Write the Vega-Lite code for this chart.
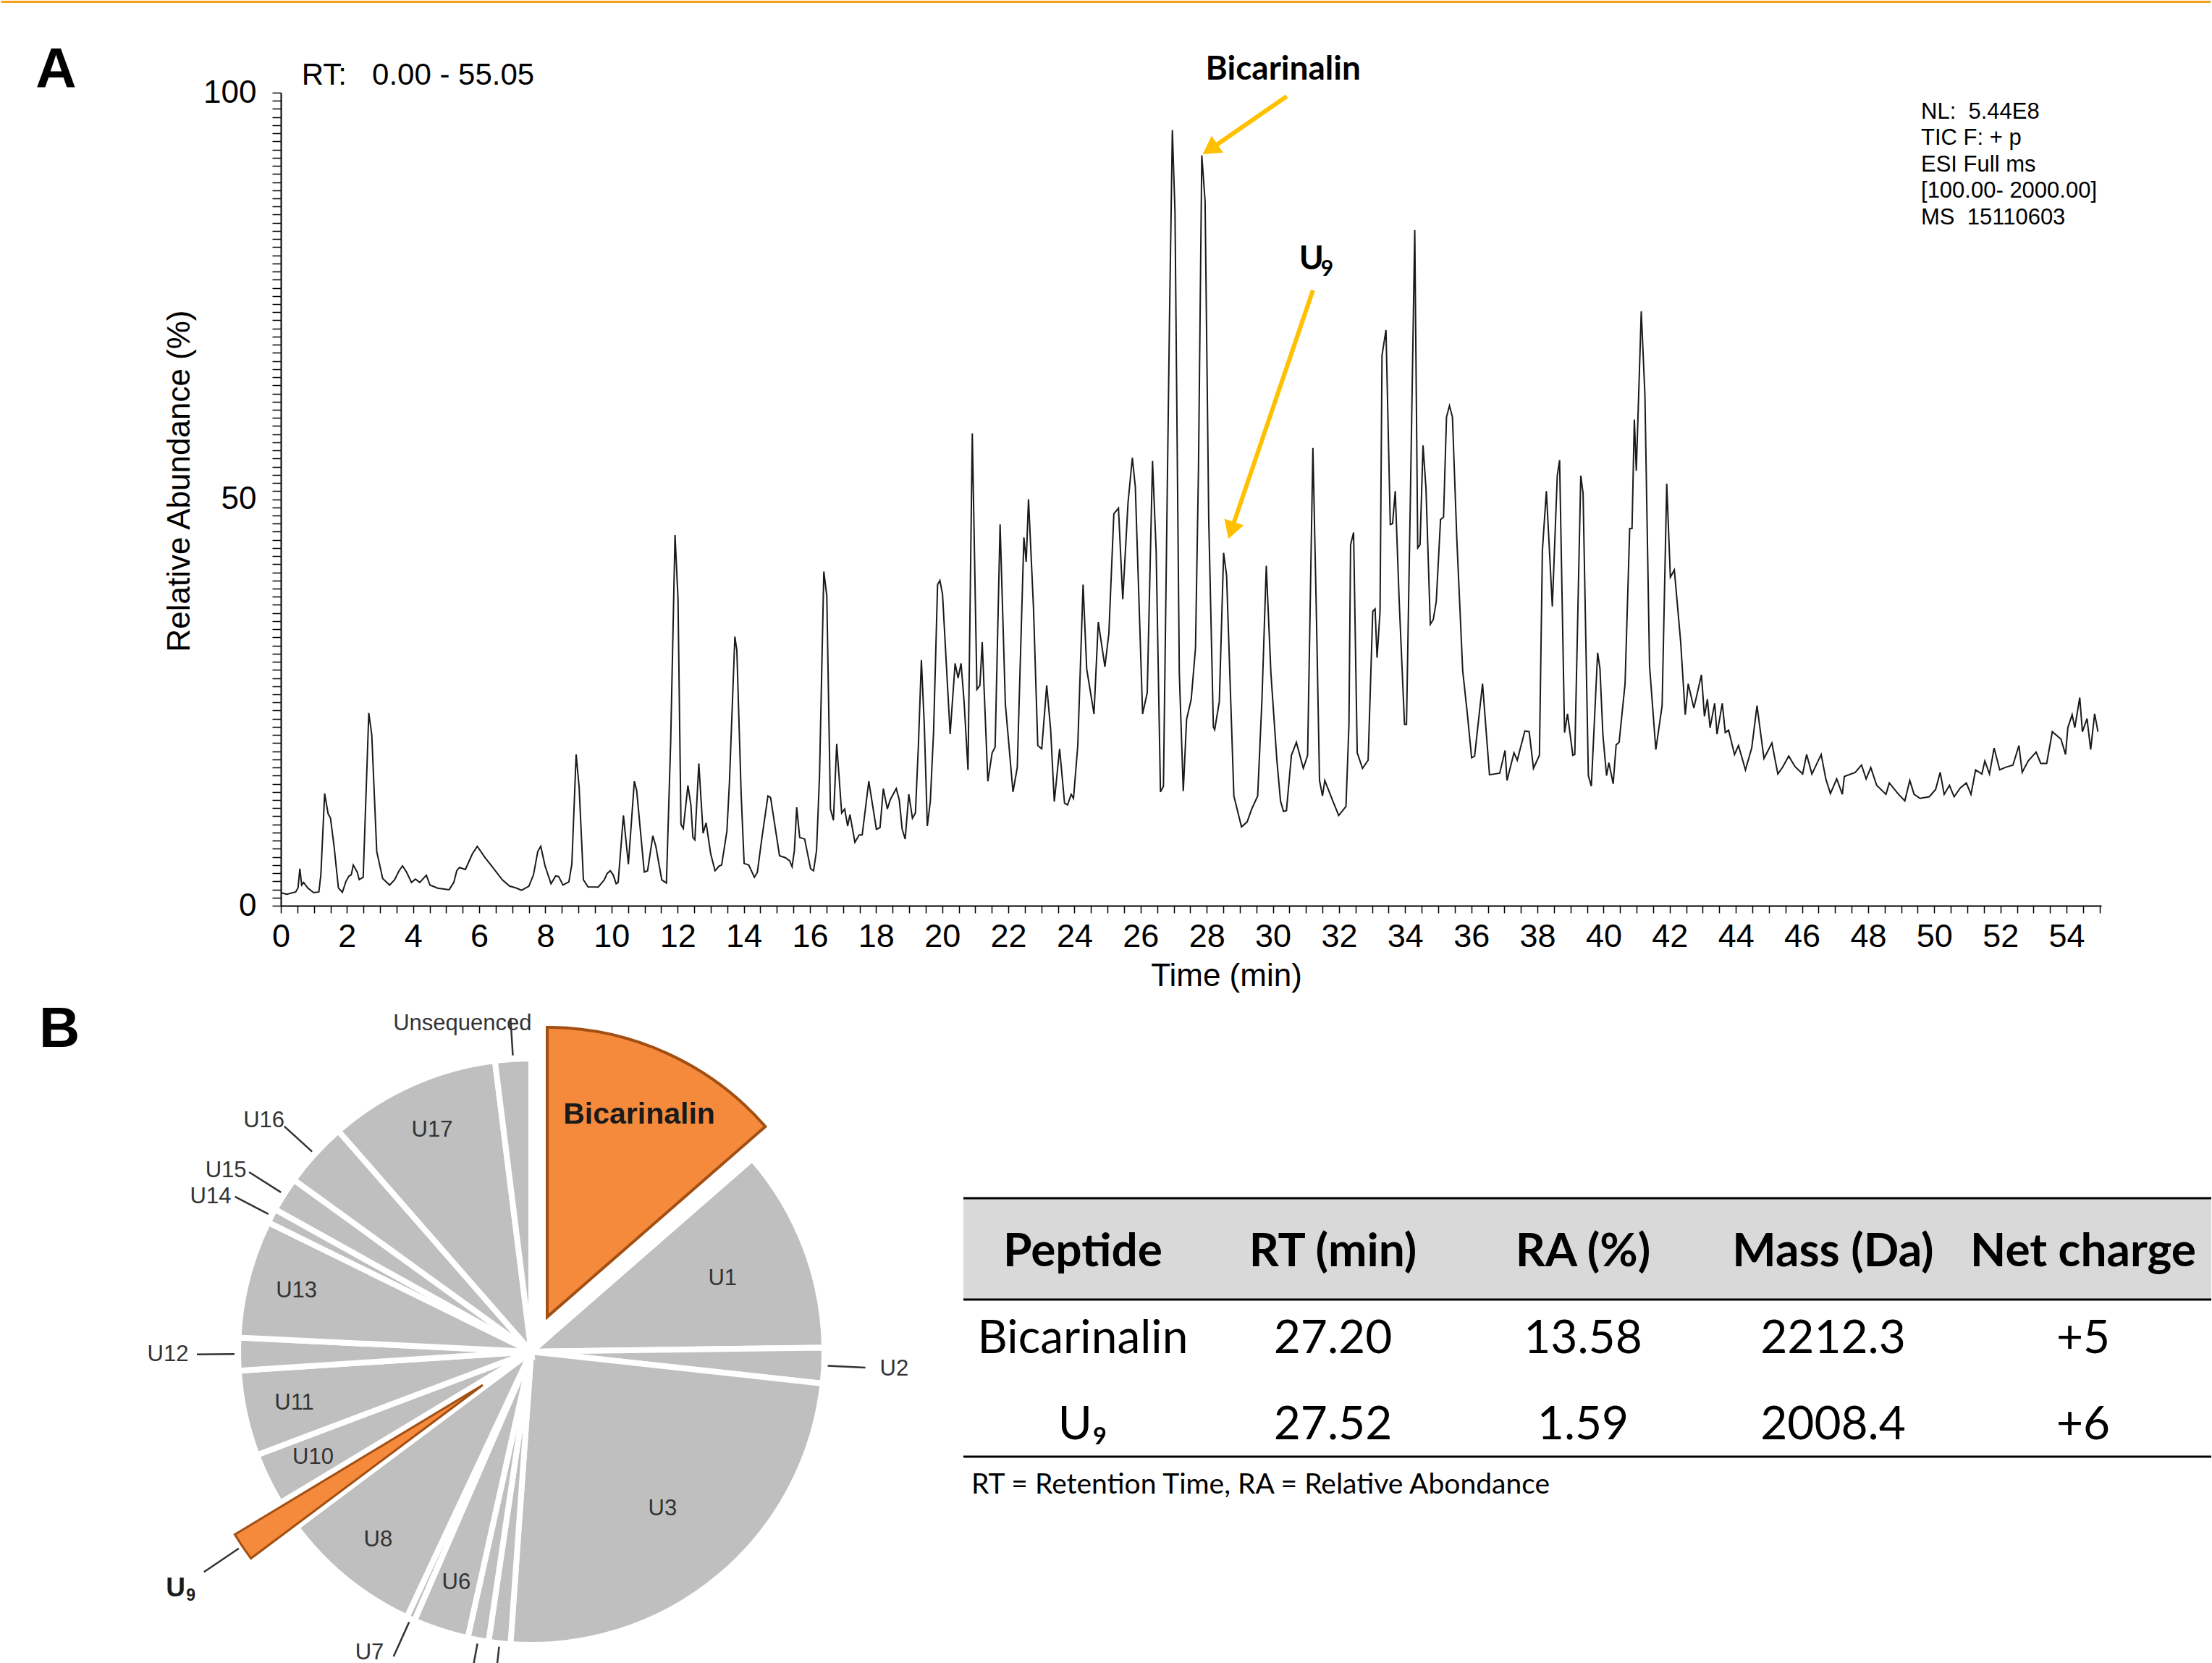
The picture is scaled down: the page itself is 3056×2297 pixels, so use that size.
{
"$schema": "https://vega.github.io/schema/vega-lite/v6.json",
"background": "white",
"padding": {"left": 0, "top": 0, "right": 0, "bottom": 0},
"config": {"view": {"stroke": null}, "text": {"font": "Liberation Sans"}},
"bounds": "flush",
"spacing": 200,
"vconcat": [
{
"width": 2515, "height": 1123,
"layer": [
{
"data": {"values": [
{"t":0,"ra":1.6},{"t":0.18,"ra":1.4},{"t":0.45,"ra":1.7},{"t":0.52,"ra":2.2},{"t":0.575,"ra":4.55},{"t":0.63,"ra":2.54},{"t":0.69,"ra":2.86},{"t":0.81,"ra":2.2},{"t":0.99,"ra":1.6},{"t":1.15,"ra":1.7},{"t":1.21,"ra":3.8},{"t":1.325,"ra":13.8},{"t":1.43,"ra":11.3},{"t":1.5,"ra":10.8},{"t":1.61,"ra":7.3},{"t":1.74,"ra":2.2},{"t":1.86,"ra":1.65},{"t":1.97,"ra":3.0},{"t":2.06,"ra":3.65},{"t":2.13,"ra":3.8},{"t":2.19,"ra":5.0},{"t":2.31,"ra":4.14},{"t":2.37,"ra":3.2},{"t":2.49,"ra":3.5},{"t":2.66,"ra":23.7},{"t":2.75,"ra":21.0},{"t":2.9,"ra":6.67},{"t":3.08,"ra":3.34},{"t":3.29,"ra":2.54},{"t":3.44,"ra":3.18},{"t":3.575,"ra":4.3},{"t":3.68,"ra":4.9},{"t":3.8,"ra":4.14},{"t":3.95,"ra":2.86},{"t":4.07,"ra":3.27},{"t":4.2,"ra":2.86},{"t":4.4,"ra":3.75},{"t":4.51,"ra":2.54},{"t":4.74,"ra":2.16},{"t":5.09,"ra":1.97},{"t":5.23,"ra":2.86},{"t":5.32,"ra":4.3},{"t":5.4,"ra":4.7},{"t":5.58,"ra":4.45},{"t":5.72,"ra":5.72},{"t":5.79,"ra":6.36},{"t":5.94,"ra":7.3},{"t":6.16,"ra":6.0},{"t":6.43,"ra":4.6},{"t":6.7,"ra":3.18},{"t":6.92,"ra":2.4},{"t":7.1,"ra":2.2},{"t":7.28,"ra":1.9},{"t":7.5,"ra":2.4},{"t":7.64,"ra":3.8},{"t":7.77,"ra":6.67},{"t":7.86,"ra":7.3},{"t":7.99,"ra":4.9},{"t":8.17,"ra":2.7},{"t":8.31,"ra":3.66},{"t":8.4,"ra":3.6},{"t":8.53,"ra":2.54},{"t":8.71,"ra":2.93},{"t":8.8,"ra":5.1},{"t":8.93,"ra":18.6},{"t":9.02,"ra":14.6},{"t":9.15,"ra":3.18},{"t":9.29,"ra":2.32},{"t":9.6,"ra":2.3},{"t":9.78,"ra":3.18},{"t":9.87,"ra":3.97},{"t":9.96,"ra":4.3},{"t":10.05,"ra":3.8},{"t":10.14,"ra":2.7},{"t":10.2,"ra":2.86},{"t":10.36,"ra":11.1},{"t":10.51,"ra":5.1},{"t":10.69,"ra":15.3},{"t":10.76,"ra":14.2},{"t":10.99,"ra":4.14},{"t":11.09,"ra":4.3},{"t":11.25,"ra":8.6},{"t":11.34,"ra":7.3},{"t":11.52,"ra":3.18},{"t":11.66,"ra":2.8},{"t":11.79,"ra":20.35},{"t":11.92,"ra":45.6},{"t":12.01,"ra":37.8},{"t":12.1,"ra":10.0},{"t":12.17,"ra":9.5},{"t":12.31,"ra":14.8},{"t":12.4,"ra":12.4},{"t":12.46,"ra":8.4},{"t":12.52,"ra":8.1},{"t":12.64,"ra":17.5},{"t":12.77,"ra":8.9},{"t":12.86,"ra":10.2},{"t":13.0,"ra":6.36},{"t":13.13,"ra":4.3},{"t":13.26,"ra":4.9},{"t":13.33,"ra":5.0},{"t":13.49,"ra":9.2},
{"t":13.565,"ra":15.1},{"t":13.73,"ra":33.1},{"t":13.79,"ra":31.4},{"t":13.92,"ra":13.7},{"t":14.01,"ra":5.2},{"t":14.15,"ra":5.0},{"t":14.32,"ra":3.5},{"t":14.41,"ra":4.1},{"t":14.55,"ra":8.4},{"t":14.73,"ra":13.5},{"t":14.81,"ra":13.3},{"t":15.08,"ra":6.15},{"t":15.26,"ra":5.9},{"t":15.39,"ra":5.5},{"t":15.46,"ra":4.8},{"t":15.53,"ra":6.8},{"t":15.6,"ra":12.1},{"t":15.69,"ra":8.4},{"t":15.84,"ra":8.2},{"t":16.02,"ra":4.55},{"t":16.11,"ra":4.3},{"t":16.2,"ra":6.8},{"t":16.29,"ra":16.0},{"t":16.42,"ra":41.1},{"t":16.51,"ra":38.1},{"t":16.62,"ra":11.9},{"t":16.71,"ra":10.5},{"t":16.81,"ra":19.9},{"t":16.96,"ra":11.4},{"t":17.05,"ra":11.9},{"t":17.14,"ra":9.8},{"t":17.21,"ra":11.2},{"t":17.36,"ra":7.8},{"t":17.49,"ra":8.7},{"t":17.58,"ra":8.7},{"t":17.78,"ra":15.3},{"t":18.01,"ra":9.4},{"t":18.12,"ra":9.6},{"t":18.22,"ra":14.4},{"t":18.34,"ra":11.9},{"t":18.43,"ra":13.05},{"t":18.61,"ra":14.4},{"t":18.7,"ra":13.05},{"t":18.79,"ra":9.4},{"t":18.88,"ra":8.2},{"t":18.99,"ra":13.7},{"t":19.1,"ra":10.75},{"t":19.19,"ra":11.4},{"t":19.28,"ra":19.7},{"t":19.37,"ra":30.2},{"t":19.46,"ra":22.0},{"t":19.55,"ra":9.8},{"t":19.64,"ra":12.8},{"t":19.74,"ra":21.5},{"t":19.86,"ra":39.5},{"t":19.93,"ra":40.0},{"t":20.01,"ra":38.3},{"t":20.24,"ra":21.1},{"t":20.39,"ra":29.8},{"t":20.48,"ra":28.0},{"t":20.57,"ra":29.8},{"t":20.66,"ra":25.2},{"t":20.78,"ra":16.7},{"t":20.91,"ra":58.1},{"t":21.05,"ra":26.6},{"t":21.14,"ra":27.1},{"t":21.21,"ra":32.4},{"t":21.38,"ra":15.3},{"t":21.51,"ra":18.8},{"t":21.6,"ra":19.5},{"t":21.75,"ra":46.9},{"t":21.91,"ra":24.8},{"t":22.14,"ra":14.0},{"t":22.27,"ra":17.0},{"t":22.47,"ra":45.3},{"t":22.54,"ra":42.3},{"t":22.61,"ra":50.0},{"t":22.76,"ra":36.7},{"t":22.89,"ra":19.7},{"t":23.01,"ra":19.3},{"t":23.16,"ra":27.1},{"t":23.28,"ra":21.6},{"t":23.39,"ra":12.8},{"t":23.55,"ra":19.3},{"t":23.7,"ra":12.6},{"t":23.79,"ra":12.4},{"t":23.9,"ra":13.7},{"t":23.97,"ra":13.2},{"t":24.1,"ra":19.7},{"t":24.26,"ra":39.5},{"t":24.37,"ra":29.1},{"t":24.59,"ra":23.6},{"t":24.72,"ra":34.9},{"t":24.92,"ra":29.4},{"t":25.04,"ra":33.5},{"t":25.19,"ra":48.2},{"t":25.33,"ra":48.9},{"t":25.46,"ra":37.7},{"t":25.62,"ra":49.6},{"t":25.75,"ra":55.1},{"t":25.84,"ra":51.5},{"t":26.06,"ra":23.6},{"t":26.2,"ra":26.2},{"t":26.36,"ra":54.7},{"t":26.47,"ra":43.6},{"t":26.6,"ra":14.0},{"t":26.69,"ra":14.7},{"t":26.87,"ra":71.2},
{"t":26.96,"ra":95.4},{"t":27.04,"ra":85.3},{"t":27.17,"ra":28.6},{"t":27.29,"ra":14.1},{"t":27.39,"ra":22.9},{"t":27.53,"ra":25.4},{"t":27.66,"ra":31.7},{"t":27.75,"ra":53.8},{"t":27.85,"ra":92.3},{"t":27.95,"ra":86.6},{"t":28.06,"ra":47.5},{"t":28.2,"ra":22.0},{"t":28.24,"ra":21.65},{"t":28.38,"ra":25.1},{"t":28.51,"ra":43.4},{"t":28.6,"ra":40.6},{"t":28.82,"ra":13.5},{"t":29.05,"ra":9.7},{"t":29.22,"ra":10.3},{"t":29.36,"ra":11.9},{"t":29.54,"ra":13.5},{"t":29.67,"ra":25.4},{"t":29.8,"ra":41.8},{"t":29.94,"ra":28.6},{"t":30.12,"ra":17.9},{"t":30.23,"ra":12.9},{"t":30.32,"ra":11.6},{"t":30.41,"ra":11.7},{"t":30.56,"ra":18.5},{"t":30.71,"ra":20.1},{"t":30.92,"ra":16.9},{"t":31.05,"ra":18.5},{"t":31.21,"ra":56.3},{"t":31.32,"ra":34.9},{"t":31.41,"ra":15.4},{"t":31.5,"ra":13.5},{"t":31.57,"ra":15.4},{"t":31.81,"ra":12.9},{"t":31.99,"ra":11.1},{"t":32.21,"ra":12.2},{"t":32.3,"ra":22.3},{"t":32.35,"ra":44.4},{"t":32.44,"ra":45.9},{"t":32.55,"ra":18.8},{"t":32.71,"ra":16.9},{"t":32.88,"ra":17.9},{"t":33.02,"ra":36.2},{"t":33.09,"ra":36.5},{"t":33.15,"ra":30.5},{"t":33.24,"ra":36.2},{"t":33.3,"ra":67.7},{"t":33.42,"ra":70.8},{"t":33.55,"ra":46.9},{"t":33.62,"ra":47.0},{"t":33.7,"ra":51.0},{"t":33.82,"ra":37.4},{"t":33.98,"ra":22.3},{"t":34.04,"ra":22.3},{"t":34.16,"ra":50.7},{"t":34.29,"ra":83.1},{"t":34.38,"ra":44.0},{"t":34.45,"ra":44.4},{"t":34.54,"ra":56.6},{"t":34.63,"ra":51.3},{"t":34.76,"ra":34.6},{"t":34.85,"ra":35.2},{"t":34.94,"ra":37.4},{"t":35.07,"ra":47.5},{"t":35.16,"ra":47.8},{"t":35.25,"ra":60.1},{"t":35.34,"ra":61.5},{"t":35.43,"ra":60.1},{"t":35.56,"ra":45.3},{"t":35.74,"ra":28.9},{"t":35.88,"ra":23.6},{"t":36.01,"ra":18.2},{"t":36.1,"ra":18.4},{"t":36.34,"ra":27.3},{"t":36.55,"ra":16.1},{"t":36.86,"ra":16.3},{"t":37.02,"ra":19.1},{"t":37.08,"ra":15.4},{"t":37.29,"ra":18.8},{"t":37.39,"ra":17.9},{"t":37.62,"ra":21.5},{"t":37.75,"ra":21.4},{"t":37.88,"ra":16.9},{"t":38.06,"ra":18.5},{"t":38.15,"ra":43.7},{"t":38.27,"ra":51.0},{"t":38.45,"ra":36.8},{"t":38.6,"ra":52.9},{"t":38.67,"ra":54.8},{"t":38.82,"ra":21.3},{"t":38.91,"ra":23.6},{"t":39.07,"ra":18.5},{"t":39.13,"ra":18.6},{"t":39.31,"ra":52.9},{"t":39.38,"ra":50.7},{"t":39.54,"ra":16.0},{"t":39.63,"ra":14.7},{"t":39.82,"ra":31.1},{"t":39.89,"ra":29.2},{"t":39.98,"ra":21.0},{"t":40.09,"ra":16.0},{"t":40.16,"ra":17.6},{"t":40.29,"ra":15.0},{"t":40.38,"ra":19.8},{"t":40.47,"ra":20.1},
{"t":40.65,"ra":27.3},{"t":40.79,"ra":46.4},{"t":40.86,"ra":46.4},{"t":40.93,"ra":59.8},{"t":40.99,"ra":53.5},{"t":41.14,"ra":73.1},{"t":41.25,"ra":62.8},{"t":41.39,"ra":29.5},{"t":41.58,"ra":19.2},{"t":41.77,"ra":24.6},{"t":41.91,"ra":51.9},{"t":42.02,"ra":40.4},{"t":42.14,"ra":41.3},{"t":42.33,"ra":32.5},{"t":42.47,"ra":23.5},{"t":42.56,"ra":27.3},{"t":42.73,"ra":24.3},{"t":42.96,"ra":28.4},{"t":43.05,"ra":23.3},{"t":43.14,"ra":25.4},{"t":43.22,"ra":21.9},{"t":43.36,"ra":24.9},{"t":43.43,"ra":21.1},{"t":43.59,"ra":24.9},{"t":43.68,"ra":21.3},{"t":43.78,"ra":21.6},{"t":43.96,"ra":18.6},{"t":44.08,"ra":19.7},{"t":44.29,"ra":16.7},{"t":44.48,"ra":19.4},{"t":44.64,"ra":24.6},{"t":44.85,"ra":18.1},{"t":45.09,"ra":20.0},{"t":45.27,"ra":16.2},{"t":45.41,"ra":17.0},{"t":45.6,"ra":18.4},{"t":45.79,"ra":17.1},{"t":46.02,"ra":16.2},{"t":46.14,"ra":18.6},{"t":46.3,"ra":16.2},{"t":46.58,"ra":18.6},{"t":46.72,"ra":15.6},{"t":46.86,"ra":13.8},{"t":47.05,"ra":15.6},{"t":47.22,"ra":13.7},{"t":47.28,"ra":15.9},{"t":47.61,"ra":16.4},{"t":47.8,"ra":17.3},{"t":47.94,"ra":15.6},{"t":48.08,"ra":17.0},{"t":48.26,"ra":14.8},{"t":48.54,"ra":13.7},{"t":48.64,"ra":15.1},{"t":48.92,"ra":13.7},{"t":49.11,"ra":12.9},{"t":49.26,"ra":15.4},{"t":49.39,"ra":13.7},{"t":49.57,"ra":13.2},{"t":49.85,"ra":13.4},{"t":50.04,"ra":14.3},{"t":50.18,"ra":16.4},{"t":50.3,"ra":13.7},{"t":50.46,"ra":14.8},{"t":50.6,"ra":13.4},{"t":50.79,"ra":14.5},{"t":50.97,"ra":15.1},{"t":51.11,"ra":13.7},{"t":51.25,"ra":16.7},{"t":51.44,"ra":16.2},{"t":51.53,"ra":17.8},{"t":51.67,"ra":16.2},{"t":51.81,"ra":19.4},{"t":51.98,"ra":16.7},{"t":52.14,"ra":17.0},{"t":52.38,"ra":17.3},{"t":52.56,"ra":19.7},{"t":52.66,"ra":16.4},{"t":52.84,"ra":17.8},{"t":53.08,"ra":18.9},{"t":53.22,"ra":17.5},{"t":53.4,"ra":17.5},{"t":53.57,"ra":21.4},{"t":53.83,"ra":20.5},{"t":53.97,"ra":18.6},{"t":54.04,"ra":21.9},{"t":54.17,"ra":23.5},{"t":54.25,"ra":21.9},{"t":54.4,"ra":25.6},{"t":54.48,"ra":21.4},{"t":54.62,"ra":23.0},{"t":54.73,"ra":19.2},{"t":54.85,"ra":23.6},{"t":54.95,"ra":21.4}
]},
"mark": {"type": "line", "color": "#1a1a1a", "strokeWidth": 2},
"encoding": {
"x": {"field": "t", "type": "quantitative", "title": "Time (min)",
 "scale": {"domain": [0, 55.05], "nice": false, "zero": false},
 "axis": {"grid": false, "tickCount": 110, "labelExpr": "datum.value % 2 === 0 ? '' + datum.value : ''", "labelOverlap": false, "labelFlush": false, "tickSize": 10, "labelPadding": 10, "labelFont": "Liberation Sans", "labelFontSize": 45, "titleFont": "Liberation Sans", "titleFontSize": 44, "titleFontWeight": "normal", "titlePadding": 10, "titleX": 1306, "domainColor": "black", "tickColor": "black", "labelColor": "black", "titleColor": "black", "domainWidth": 2, "tickWidth": 1.5}},
"y": {"field": "ra", "type": "quantitative", "title": "Relative Abundance (%)",
 "scale": {"domain": [0, 100], "nice": false},
 "axis": {"grid": false, "tickCount": 100, "labelExpr": "datum.value % 50 === 0 ? '' + datum.value : ''", "labelOverlap": false, "labelFlush": false, "tickSize": 12, "labelPadding": 22, "labelFont": "Liberation Sans", "labelFontSize": 44, "titleFont": "Liberation Sans", "titleFontSize": 44, "titleFontWeight": "normal", "titlePadding": 10, "titleY": 536, "domainColor": "black", "tickColor": "black", "labelColor": "black", "titleColor": "black", "domainWidth": 2, "tickWidth": 1.5}}
}
},
{"data": {"values": [{}]}, "mark": {"type": "rule", "color": "#F4A21D", "strokeWidth": 3, "strokeCap": "butt"}, "encoding": {"x": {"datum": -8.454}, "x2": {"datum": 58.36}, "y": {"datum": 111.18}}},
{"data": {"values": [{}]}, "mark": {"type": "rule", "color": "#FFC000", "strokeWidth": 6}, "encoding": {"x": {"datum": 30.42}, "y": {"datum": 99.55}, "x2": {"datum": 28.10}, "y2": {"datum": 93.04}}},
{"data": {"values": [{}]}, "mark": {"type": "point", "shape": "triangle-up", "size": 800, "angle": 235.4, "filled": true, "color": "#FFC000", "opacity": 1}, "encoding": {"x": {"datum": 28.10}, "y": {"datum": 93.04}}},
{"data": {"values": [{}]}, "mark": {"type": "rule", "color": "#FFC000", "strokeWidth": 6}, "encoding": {"x": {"datum": 31.21}, "y": {"datum": 75.69}, "x2": {"datum": 28.74}, "y2": {"datum": 46.16}}},
{"data": {"values": [{}]}, "mark": {"type": "point", "shape": "triangle-up", "size": 800, "angle": 198.8, "filled": true, "color": "#FFC000", "opacity": 1}, "encoding": {"x": {"datum": 28.74}, "y": {"datum": 46.16}}},
{"data": {"values": [{}]}, "mark": {"type": "text", "text": "Bicarinalin", "font": "Lato", "fontWeight": "bold", "fontSize": 46, "align": "center", "baseline": "alphabetic", "color": "black"}, "encoding": {"x": {"datum": 30.31}, "y": {"datum": 101.6}}},
{"data": {"values": [{}]}, "mark": {"type": "text", "text": "U", "font": "Lato", "fontWeight": "bold", "fontSize": 46, "align": "left", "baseline": "alphabetic", "color": "black"}, "encoding": {"x": {"datum": 30.79}, "y": {"datum": 78.27}}},
{"data": {"values": [{}]}, "mark": {"type": "text", "text": "9", "font": "Lato", "fontWeight": "bold", "fontSize": 30, "align": "left", "baseline": "alphabetic", "color": "black"}, "encoding": {"x": {"datum": 31.45}, "y": {"datum": 77.47}}},
{"data": {"values": [{}]}, "mark": {"type": "text", "text": "RT:\u00a0\u00a0 0.00 - 55.05", "font": "Liberation Sans", "fontSize": 42, "align": "left", "baseline": "alphabetic", "color": "black"}, "encoding": {"x": {"datum": 0.63}, "y": {"datum": 100.98}}},
{"data": {"values": [{}]}, "mark": {"type": "text", "text": ["NL:\u00a0 5.44E8", "TIC F: + p", "ESI Full ms", "[100.00- 2000.00]", "\u00a0MS\u00a0 15110603"], "font": "Liberation Sans", "fontSize": 31, "lineHeight": 36.5, "align": "left", "baseline": "alphabetic", "color": "black"}, "encoding": {"x": {"datum": 49.6}, "y": {"datum": 96.8}}},
{"data": {"values": [{}]}, "mark": {"type": "text", "text": "A", "font": "Liberation Sans", "fontWeight": "bold", "fontSize": 78, "align": "left", "baseline": "alphabetic", "color": "black"}, "encoding": {"x": {"datum": -7.415}, "y": {"datum": 100.58}}}
]
},
{
"hconcat": [
{
"width": 692, "height": 832,
"data": {"values": [
{"name":"Bicarinalin","pct":13.58},{"name":"U1","pct":11.2},{"name":"U2","pct":1.95},{"name":"U3","pct":24.4},{"name":"U4","pct":1.2},{"name":"U5","pct":1.15},{"name":"U6","pct":3.05},{"name":"U7","pct":0.45},{"name":"U8","pct":7.8},{"name":"U9","pct":1.59},{"name":"U10","pct":2.9},{"name":"U11","pct":4.7},{"name":"U12","pct":1.8},{"name":"U13","pct":6.5},{"name":"U14","pct":0.8},{"name":"U15","pct":1.9},{"name":"U16","pct":3.6},{"name":"U17","pct":9.45},{"name":"Unsequenced","pct":1.98}
]},
"transform": [{"stack": "pct", "groupby": [], "as": ["t0", "t1"]}],
"layer": [
{"transform": [{"filter": {"not": {"field": "name", "oneOf": ["Bicarinalin", "U9"]}}}],
 "mark": {"type": "arc", "radius": 405, "fill": "#BFBFBF", "stroke": "white", "strokeWidth": 8},
 "encoding": {"theta": {"field": "t0", "type": "quantitative", "scale": {"domain": [0, 100]}, "stack": null}, "theta2": {"field": "t1"}}},
{"transform": [{"filter": {"field": "name", "equal": "Bicarinalin"}}],
 "mark": {"type": "arc", "radius": 400, "fill": "#F68A3C", "stroke": "#A24F14", "strokeWidth": 4, "xOffset": 22, "yOffset": -48},
 "encoding": {"theta": {"field": "t0", "type": "quantitative", "stack": null}, "theta2": {"field": "t1"}}},
{"transform": [{"filter": {"field": "name", "equal": "U9"}}],
 "mark": {"type": "arc", "radius": 400, "fill": "#F68A3C", "stroke": "#A24F14", "strokeWidth": 3, "xOffset": -67, "yOffset": 46},
 "encoding": {"theta": {"field": "t0", "type": "quantitative", "stack": null}, "theta2": {"field": "t1"}}},
{"transform": [{"fold": ["t0", "t1"], "as": ["edge", "ang"]}, {"aggregate": [{"op": "mean", "field": "ang", "as": "mid"}], "groupby": ["name"]}, {"filter": {"field": "name", "oneOf": ["U2", "U4", "U5", "U7", "U12", "U14", "U15", "U16", "Unsequenced"]}}],
 "mark": {"type": "arc", "radius": 462, "radius2": 410, "fill": "transparent", "stroke": "#333333", "strokeWidth": 2.5},
 "encoding": {"theta": {"field": "mid", "type": "quantitative", "stack": null}, "theta2": {"field": "mid"}}},
{"transform": [{"fold": ["t0", "t1"], "as": ["edge", "ang"]}, {"aggregate": [{"op": "mean", "field": "ang", "as": "mid"}], "groupby": ["name"]}, {"filter": {"field": "name", "equal": "U9"}}],
 "mark": {"type": "arc", "radius": 545, "radius2": 487, "fill": "transparent", "stroke": "#333333", "strokeWidth": 2.5},
 "encoding": {"theta": {"field": "mid", "type": "quantitative", "stack": null}, "theta2": {"field": "mid"}}},
{"transform": [{"fold": ["t0", "t1"], "as": ["edge", "ang"]}, {"aggregate": [{"op": "mean", "field": "ang", "as": "mid"}], "groupby": ["name"]}, {"filter": {"field": "name", "oneOf": ["U6", "U8", "U10", "U11", "U13", "U17"]}}],
 "mark": {"type": "text", "radius": 335, "fontSize": 31, "color": "#333333"},
 "encoding": {"theta": {"field": "mid", "type": "quantitative"}, "text": {"field": "name"}}},
{"transform": [{"fold": ["t0", "t1"], "as": ["edge", "ang"]}, {"aggregate": [{"op": "mean", "field": "ang", "as": "mid"}], "groupby": ["name"]}, {"filter": {"field": "name", "oneOf": ["U1", "U3"]}}],
 "mark": {"type": "text", "radius": 283, "fontSize": 31, "color": "#333333"},
 "encoding": {"theta": {"field": "mid", "type": "quantitative"}, "text": {"field": "name"}}},
{"transform": [{"fold": ["t0", "t1"], "as": ["edge", "ang"]}, {"aggregate": [{"op": "mean", "field": "ang", "as": "mid"}], "groupby": ["name"]}, {"filter": {"field": "name", "oneOf": ["U2", "U12"]}}],
 "mark": {"type": "text", "radius": 502, "fontSize": 31, "color": "#333333"},
 "encoding": {"theta": {"field": "mid", "type": "quantitative"}, "text": {"field": "name"}}},
{"transform": [{"fold": ["t0", "t1"], "as": ["edge", "ang"]}, {"aggregate": [{"op": "mean", "field": "ang", "as": "mid"}], "groupby": ["name"]}, {"filter": {"field": "name", "oneOf": ["U14", "U15", "U16"]}}],
 "mark": {"type": "text", "radius": 500, "dy": 18, "fontSize": 31, "color": "#333333"},
 "encoding": {"theta": {"field": "mid", "type": "quantitative"}, "text": {"field": "name"}}},
{"transform": [{"fold": ["t0", "t1"], "as": ["edge", "ang"]}, {"aggregate": [{"op": "mean", "field": "ang", "as": "mid"}], "groupby": ["name"]}, {"filter": {"field": "name", "equal": "Unsequenced"}}],
 "mark": {"type": "text", "radius": 470, "dx": -66, "dy": 16, "fontSize": 31, "color": "#333333"},
 "encoding": {"theta": {"field": "mid", "type": "quantitative"}, "text": {"field": "name"}}},
{"transform": [{"fold": ["t0", "t1"], "as": ["edge", "ang"]}, {"aggregate": [{"op": "mean", "field": "ang", "as": "mid"}], "groupby": ["name"]}, {"filter": {"field": "name", "equal": "U7"}}],
 "mark": {"type": "text", "radius": 470, "dx": -30, "dy": -12, "fontSize": 31, "color": "#333333"},
 "encoding": {"theta": {"field": "mid", "type": "quantitative"}, "text": {"field": "name"}}},
{"transform": [{"fold": ["t0", "t1"], "as": ["edge", "ang"]}, {"aggregate": [{"op": "mean", "field": "ang", "as": "mid"}], "groupby": ["name"]}, {"filter": {"field": "name", "equal": "U9"}}],
 "mark": {"type": "text", "text": "U", "radius": 585, "dx": -6, "fontSize": 37, "fontWeight": "bold", "color": "#1a1a1a"},
 "encoding": {"theta": {"field": "mid", "type": "quantitative"}}},
{"transform": [{"fold": ["t0", "t1"], "as": ["edge", "ang"]}, {"aggregate": [{"op": "mean", "field": "ang", "as": "mid"}], "groupby": ["name"]}, {"filter": {"field": "name", "equal": "U9"}}],
 "mark": {"type": "text", "text": "9", "radius": 585, "dx": 15, "dy": 10, "fontSize": 23, "fontWeight": "bold", "color": "#1a1a1a"},
 "encoding": {"theta": {"field": "mid", "type": "quantitative"}}},
{"transform": [{"fold": ["t0", "t1"], "as": ["edge", "ang"]}, {"aggregate": [{"op": "mean", "field": "ang", "as": "mid"}], "groupby": ["name"]}, {"filter": {"field": "name", "equal": "Bicarinalin"}}],
 "mark": {"type": "text", "radius": 307, "dx": 22, "dy": -48, "fontSize": 41, "fontWeight": "bold", "color": "#1a1a1a"},
 "encoding": {"theta": {"field": "mid", "type": "quantitative"}, "text": {"field": "name"}}},
{"data": {"values": [{}]},
 "mark": {"type": "text", "text": "B", "radius": 800, "align": "left", "baseline": "alphabetic", "fontSize": 78, "fontWeight": "bold", "color": "black"},
 "encoding": {"theta": {"datum": 83.83, "type": "quantitative"}}}
]
},
{
"width": 1724, "height": 561,
"title": {"text": "RT = Retention Time, RA = Relative Abondance", "orient": "bottom", "anchor": "start", "frame": "group", "offset": 18, "font": "Lato", "fontSize": 39, "fontWeight": "normal", "baseline": "top", "dx": 11, "color": "black"},
"data": {"values": [
{"Peptide": "Bicarinalin", "RT (min)": "27.20", "RA (%)": "13.58", "Mass (Da)": "2212.3", "Net charge": "+5"},
{"Peptide": "U₉", "RT (min)": "27.52", "RA (%)": "1.59", "Mass (Da)": "2008.4", "Net charge": "+6"}
]},
"layer": [
{"data": {"values": [{}]}, "mark": {"type": "rule", "color": "#D9D9D9", "strokeWidth": 140, "strokeCap": "butt", "yOffset": 10.5},
 "encoding": {"y": {"datum": "header", "type": "nominal", "bandPosition": 0.5, "scale": {"type": "band", "domain": ["header", "Bicarinalin", "U₉"], "range": [204, 561], "paddingInner": 0, "paddingOuter": 0}, "axis": null}}},
{"data": {"values": [{}]}, "mark": {"type": "rule", "color": "black", "strokeWidth": 3},
 "encoding": {"y": {"datum": "header", "type": "nominal", "bandPosition": 0}}},
{"data": {"values": [{}]}, "mark": {"type": "rule", "color": "black", "strokeWidth": 3, "yOffset": 21},
 "encoding": {"y": {"datum": "Bicarinalin", "type": "nominal", "bandPosition": 0}}},
{"data": {"values": [{}]}, "mark": {"type": "rule", "color": "black", "strokeWidth": 3},
 "encoding": {"y": {"datum": "U₉", "type": "nominal", "bandPosition": 1}}},
{"transform": [{"filter": {"field": "Peptide", "equal": "Bicarinalin"}}, {"fold": ["Peptide", "RT (min)", "RA (%)", "Mass (Da)", "Net charge"], "as": ["key", "value"]}],
 "mark": {"type": "text", "font": "Lato", "fontWeight": "bold", "fontSize": 64, "color": "black"},
 "encoding": {"x": {"field": "key", "type": "nominal", "scale": {"type": "point", "domain": ["Peptide", "RT (min)", "RA (%)", "Mass (Da)", "Net charge"], "range": [165, 1547], "padding": 0}, "axis": null},
  "y": {"datum": "header", "type": "nominal", "bandPosition": 0.63}, "text": {"field": "key"}}},
{"transform": [{"fold": ["Peptide", "RT (min)", "RA (%)", "Mass (Da)", "Net charge"], "as": ["key", "value"]}],
 "mark": {"type": "text", "font": "Lato", "fontSize": 64, "color": "black"},
 "encoding": {"x": {"field": "key", "type": "nominal"},
  "y": {"field": "Peptide", "type": "nominal", "bandPosition": 0.64}, "text": {"field": "value"}}}
]
}
],
"spacing": 251,
"bounds": "flush"
}
]
}
